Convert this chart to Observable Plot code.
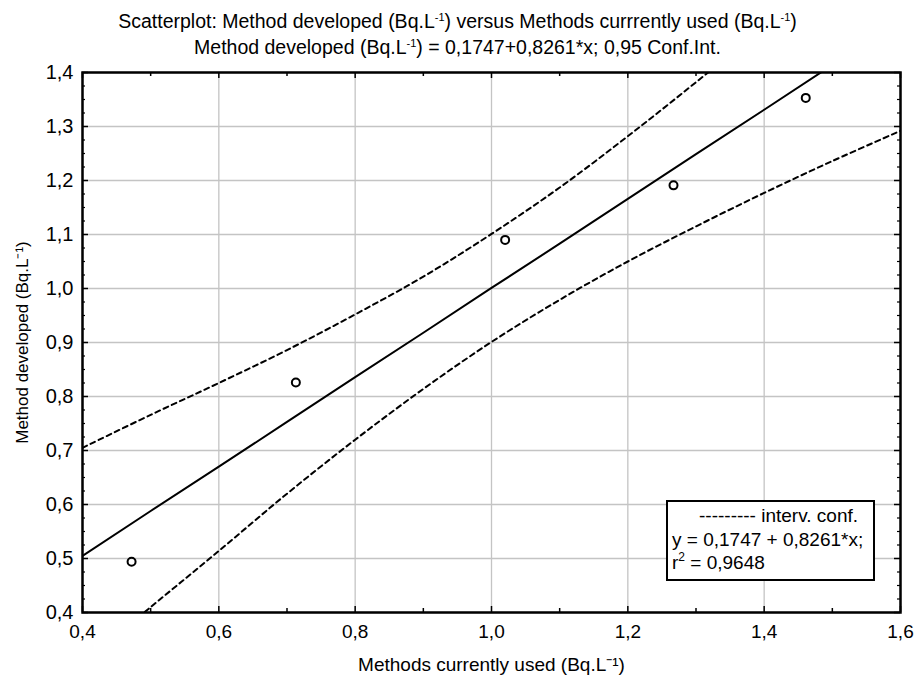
<!DOCTYPE html>
<html>
<head>
<meta charset="utf-8">
<script src="https://cdn.jsdelivr.net/npm/d3@7"></script>
<script src="https://cdn.jsdelivr.net/npm/@observablehq/plot@0.6"></script>
<style>
  body { margin: 0; background: #fff; }
  #wrap { position: relative; width: 915px; height: 680px; font-family: "Liberation Sans", Arial, sans-serif; color: #000; }
  .title { position: absolute; left: 0; width: 915px; text-align: center; font-size: 19.5px; line-height: 22px; white-space: nowrap; }
  sup { font-size: 11px; vertical-align: 7px; line-height: 0; }
  #legend { position: absolute; left: 666px; top: 500px; width: 201px; height: 75px; border: 2px solid #000; background: #fff; font-size: 19px; line-height: 23.5px; padding: 2px 0 0 4px; box-sizing: content-box; white-space: nowrap; }
  #legend div { height: 23.5px; }
  #legend sup { font-size: 12px; vertical-align: 8px; }
  #chart svg { display: block; }
</style>
</head>
<body>
<div id="wrap">
  <div id="chart"></div>
  <div class="title" style="top:10px">Scatterplot: Method developed (Bq.L<sup>-1</sup>) versus Methods currrently used (Bq.L<sup>-1</sup>)</div>
  <div class="title" style="top:36px">Method developed (Bq.L<sup>-1</sup>) = 0,1747+0,8261*x; 0,95 Conf.Int.</div>
  <div id="legend">
    <div style="padding-left:27px">--------- interv. conf.</div>
    <div>y = 0,1747 + 0,8261*x;</div>
    <div>r<sup>2</sup> = 0,9648</div>
  </div>
</div>
<script>
// Observed points (Methods currently used vs Method developed, Bq.L-1)
const obsX = [0.472, 0.713, 1.020, 1.267, 1.461];
const obsY = [0.494, 0.826, 1.090, 1.191, 1.353];

// Fitted line and 95% confidence bands
const bandX  = [0.4, 0.5, 0.6, 0.7, 0.8, 0.9, 1.0, 1.1, 1.2, 1.3, 1.4, 1.5, 1.6];
const fitY   = [0.505, 0.588, 0.670, 0.753, 0.836, 0.918, 1.001, 1.083, 1.166, 1.249, 1.331, 1.414, 1.497];
const upperY = [0.705, 0.766, 0.825, 0.886, 0.952, 1.022, 1.101, 1.187, 1.282, 1.382, 1.485, 1.592, 1.700];
const lowerY = [0.305, 0.410, 0.514, 0.620, 0.720, 0.814, 0.901, 0.979, 1.050, 1.115, 1.177, 1.236, 1.292];

// Axis ticks
const xMajor = [0.4, 0.6, 0.8, 1.0, 1.2, 1.4, 1.6];
const xMinor = [0.5, 0.7, 0.9, 1.1, 1.3, 1.5];
const yMajor = [0.4, 0.5, 0.6, 0.7, 0.8, 0.9, 1.0, 1.1, 1.2, 1.3, 1.4];
const yMinor = [0.425, 0.45, 0.475, 0.525, 0.55, 0.575, 0.625, 0.65, 0.675, 0.725, 0.75, 0.775,
                0.825, 0.85, 0.875, 0.925, 0.95, 0.975, 1.025, 1.05, 1.075, 1.125, 1.15, 1.175,
                1.225, 1.25, 1.275, 1.325, 1.35, 1.375];

const xLabel = "Methods currently used (Bq.L⁻¹)";
const yLabel = "Method developed (Bq.L⁻¹)";

const points = obsX.map((x, i) => ({x, y: obsY[i]}));
const fit = bandX.map((x, i) => ({x, y: fitY[i]}));
const upper = bandX.map((x, i) => ({x, y: upperY[i]}));
const lower = bandX.map((x, i) => ({x, y: lowerY[i]}));

const W = 915, H = 680, mL = 82, mR = 15, mT = 72, mB = 68;
const iw = W - mL - mR, ih = H - mT - mB;
const fmt = d => d.toFixed(1).replace(".", ",");
const tickCol = "#000";

const chart = Plot.plot({
  width: W, height: H,
  marginLeft: mL, marginRight: mR, marginTop: mT, marginBottom: mB,
  x: {domain: [0.4, 1.6]},
  y: {domain: [0.4, 1.4]},
  style: {fontFamily: "'Liberation Sans', Arial, sans-serif", fontSize: "19px", color: "#000", background: "transparent"},
  marks: [
    Plot.gridX(xMajor, {stroke: "#c4c4c4", strokeOpacity: 1, strokeWidth: 1.3}),
    Plot.gridY(yMajor, {stroke: "#c4c4c4", strokeOpacity: 1, strokeWidth: 1.3}),
    // inward ticks
    Plot.tickX(xMajor, {x: d => d, insetTop: ih - 6, stroke: tickCol, strokeWidth: 1.5}),
    Plot.tickX(xMinor, {x: d => d, insetTop: ih - 4, stroke: tickCol, strokeWidth: 1.5}),
    Plot.tickX(xMajor, {x: d => d, insetBottom: ih - 6, stroke: tickCol, strokeWidth: 1.5}),
    Plot.tickX(xMinor, {x: d => d, insetBottom: ih - 4, stroke: tickCol, strokeWidth: 1.5}),
    Plot.tickY(yMajor, {y: d => d, insetRight: iw - 6, stroke: tickCol, strokeWidth: 1.5}),
    Plot.tickY(yMinor, {y: d => d, insetRight: iw - 3, stroke: tickCol, strokeWidth: 1.2}),
    Plot.tickY(yMajor, {y: d => d, insetLeft: iw - 6, stroke: tickCol, strokeWidth: 1.5}),
    Plot.tickY(yMinor, {y: d => d, insetLeft: iw - 3, stroke: tickCol, strokeWidth: 1.2}),
    Plot.axisX(xMajor, {anchor: "bottom", tickSize: 0, tickPadding: 12, tickFormat: fmt, label: null, fontSize: 19}),
    Plot.axisY(yMajor, {anchor: "left", tickSize: 0, tickPadding: 9, tickFormat: fmt, label: null, fontSize: 20, letterSpacing: 1}),
    Plot.axisX({anchor: "bottom", ticks: [], label: xLabel, labelAnchor: "center", labelOffset: 58, labelArrow: "none", fontSize: 19}),
    Plot.axisY({anchor: "left", ticks: [], label: yLabel, labelAnchor: "center", labelOffset: 67, labelArrow: "none", fontSize: 17}),
    // confidence bands
    Plot.line(upper, {x: "x", y: "y", stroke: "#000", strokeWidth: 2, strokeDasharray: "5,4", curve: "catmull-rom", clip: true}),
    Plot.line(lower, {x: "x", y: "y", stroke: "#000", strokeWidth: 2, strokeDasharray: "5,4", curve: "catmull-rom", clip: true}),
    // fitted line
    Plot.line(fit, {x: "x", y: "y", stroke: "#000", strokeWidth: 2, clip: true}),
    // observed points
    Plot.dot(points, {x: "x", y: "y", r: 4, stroke: "#000", strokeWidth: 2, fill: "none"}),
    Plot.frame({stroke: "#000", strokeWidth: 2.5})
  ]
});
document.getElementById("chart").appendChild(chart);
</script>
</body>
</html>
